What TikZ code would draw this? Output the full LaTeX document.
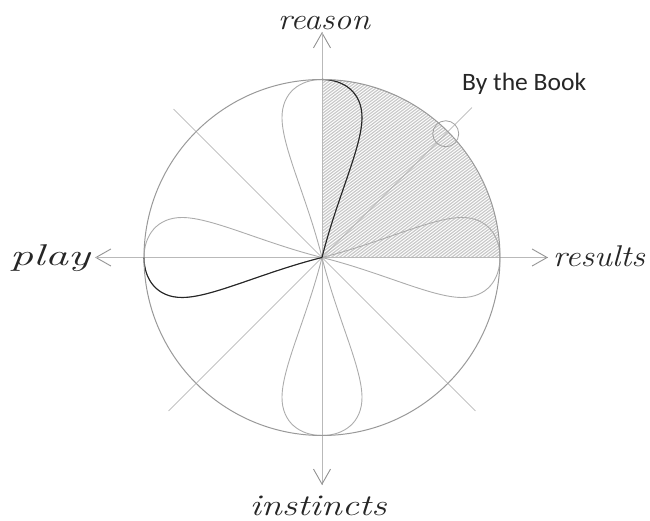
\documentclass[tikz,border=0pt]{standalone}
\usepackage{fontspec}
\usepackage{graphicx}
\newfontfamily\bookfont{Carlito}
\usetikzlibrary{arrows.meta}
\newcommand\handw[2]{\resizebox{#1}{\height}{\fontsize{30}{34}\selectfont\itshape #2}}
\tikzset{
  axisline/.style={gray!55, line width=0.6pt, -{Straight Barb[length=15pt,width=17pt,line width=0.9pt,color=gray!85]}},
  diagline/.style={gray!70, line width=0.7pt},
  petallight/.style={gray!65, line width=0.9pt},
  petaldark/.style={black!85, line width=1.1pt},
  rim/.style={gray!80, line width=1pt},
  hatch/.style={gray!42, line width=1.2pt},
  handlabel/.style={inner sep=0pt, text=black!85},
}
\newcommand\petalleft{(0,0) .. controls (-15,60) and (-40,110) .. (-40,140) .. controls (-40,165) and (-22,178) .. (0,178)}
\newcommand\petalright{(0,0) .. controls (15,60) and (40,110) .. (40,140) .. controls (40,165) and (22,178) .. (0,178)}
\begin{document}
\begin{tikzpicture}[x=1pt,y=1pt]
\useasboundingbox (-322,-263.5) rectangle (328,257.5);
\coordinate (O) at (0,0);
\coordinate (E) at (178,0);
% hatching of the upper right quadrant
\begin{scope}
  \clip (O) -- (E) arc[start angle=0,end angle=90,radius=178] -- cycle;
  \foreach \k in {-264,-260,...,176} \draw[hatch] (\k,-10) -- ++(37:420);
\end{scope}
% axes
\coordinate (N) at (0,225.5);
\coordinate (S) at (0,-227.5);
\coordinate (W) at (-227,0);
\coordinate (Ea) at (226,0);
\draw[axisline] (S) -- (N);
\draw[axisline] (N) -- (S);
\draw[axisline] (Ea) -- (W);
\draw[axisline] (W) -- (Ea);
% diagonals
\coordinate (D1) at (45:212);
\coordinate (D2) at (135:210);
\coordinate (D3) at (225:217);
\coordinate (D4) at (315:217);
\draw[diagline] (D1) -- (D3);
\draw[diagline] (D2) -- (D4);
% petals
\foreach \a in {0,90,180,270} {
  \begin{scope}[rotate=\a]
    \draw[petallight] \petalleft;
    \draw[petallight] \petalright;
  \end{scope}
}
\draw[petaldark] \petalright;
\begin{scope}[rotate=90]
  \draw[petaldark] \petalleft;
\end{scope}
% circle
\draw[rim] (O) circle[radius=178];
% marker
\node[draw=gray!75, line width=0.8pt, circle, minimum size=26pt, inner sep=0pt] (mark) at (45:175) {};
% labels
\node[handlabel, anchor=base] (reason) at (2,228) {\handw{92pt}{reason}};
\node[handlabel, anchor=base] (play) at (-272,-8.5) {\handw{80pt}{play}};
\node[handlabel, anchor=base] (results) at (277,-9.5) {\handw{92pt}{results}};
\node[handlabel, anchor=base] (instincts) at (-4,-257.5) {\handw{137pt}{instincts}};
\node[inner sep=0pt, anchor=base west, text=black!85] (book) at (140,166.5) {\resizebox{124pt}{\height}{\bookfont\fontsize{25}{30}\selectfont By the Book}};
\end{tikzpicture}
\end{document}
